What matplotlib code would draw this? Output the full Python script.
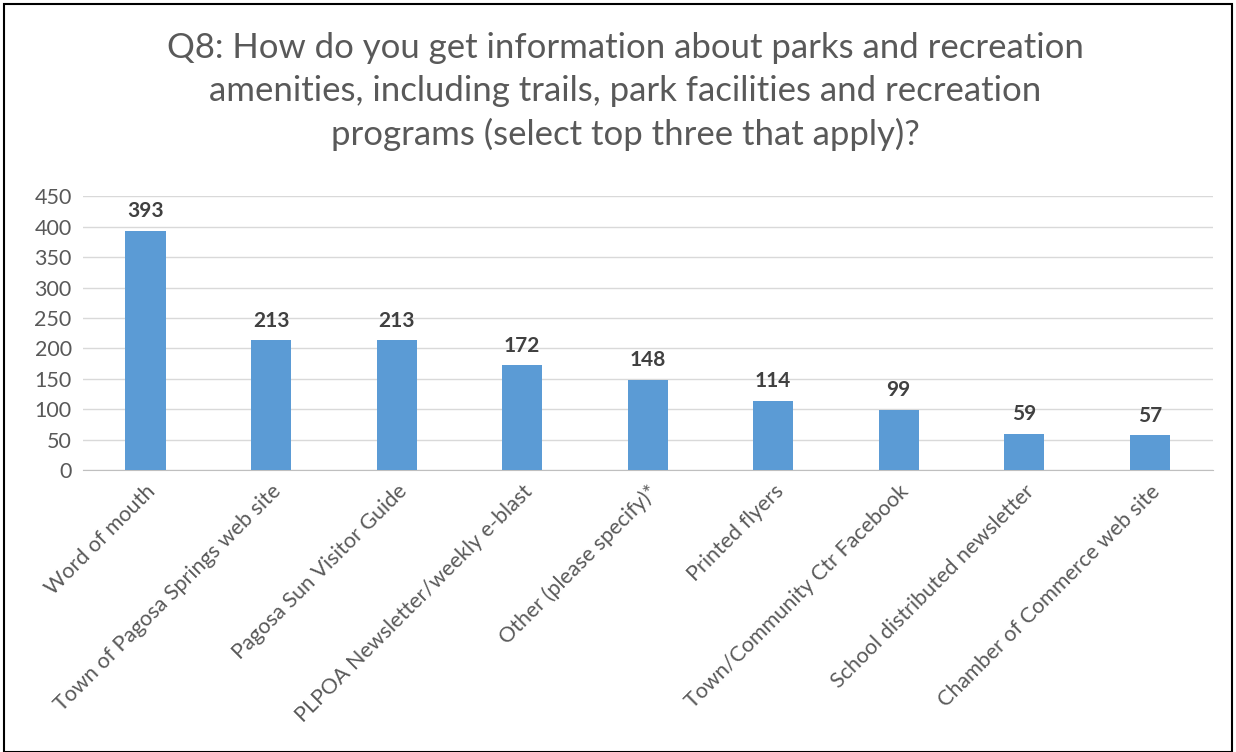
import matplotlib.pyplot as plt
from matplotlib.patches import Rectangle

categories = [
    "Word of mouth",
    "Town of Pagosa Springs web site",
    "Pagosa Sun Visitor Guide",
    "PLPOA Newsletter/weekly e-blast",
    "Other (please specify)*",
    "Printed flyers",
    "Town/Community Ctr Facebook",
    "School distributed newsletter",
    "Chamber of Commerce web site",
]
counts = [393, 213, 213, 172, 148, 114, 99, 59, 57]
y_ticks = [0, 50, 100, 150, 200, 250, 300, 350, 400, 450]
title = ("Q8: How do you get information about parks and recreation\n"
         "amenities, including trails, park facilities and recreation\n"
         "programs (select top three that apply)?")

plt.rcParams['font.family'] = ['Lato', 'DejaVu Sans']

fig = plt.figure(figsize=(12.36, 7.52), dpi=100)
ax = fig.add_axes([0.067, 0.375, 0.914, 0.364])

x = range(len(categories))
bars = ax.bar(x, counts, width=0.32, color="#5B9BD5", zorder=3)
for b, v in zip(bars, counts):
    ax.text(b.get_x() + b.get_width() / 2, v + 16, str(v), ha="center", va="bottom",
            fontsize=15, fontweight="bold", color="#404040")

ax.set_xlim(-0.5, len(categories) - 0.5)
ax.set_ylim(0, 450)
ax.set_yticks(y_ticks)
ax.grid(axis="y", color="#D9D9D9", linewidth=1, zorder=0)
for s in ["top", "right", "left"]:
    ax.spines[s].set_visible(False)
ax.spines["bottom"].set_color("#BFBFBF")
ax.tick_params(axis="y", length=0, labelsize=15.5, labelcolor="#595959", pad=8)
ax.tick_params(axis="x", length=0, labelsize=15.5, labelcolor="#595959", pad=8)
ax.set_xticks(list(x))
ax.set_xticklabels(categories, rotation=45, ha="right", rotation_mode="anchor")

fig.text(0.506, 0.958, title, ha="center", va="top", fontsize=25, color="#595959",
         linespacing=1.42)

fig.patches.append(Rectangle((0.003, 0.0), 0.994, 0.995, transform=fig.transFigure,
                             fill=False, edgecolor="black", linewidth=1.5))

fig.savefig("out.png", dpi=100)
